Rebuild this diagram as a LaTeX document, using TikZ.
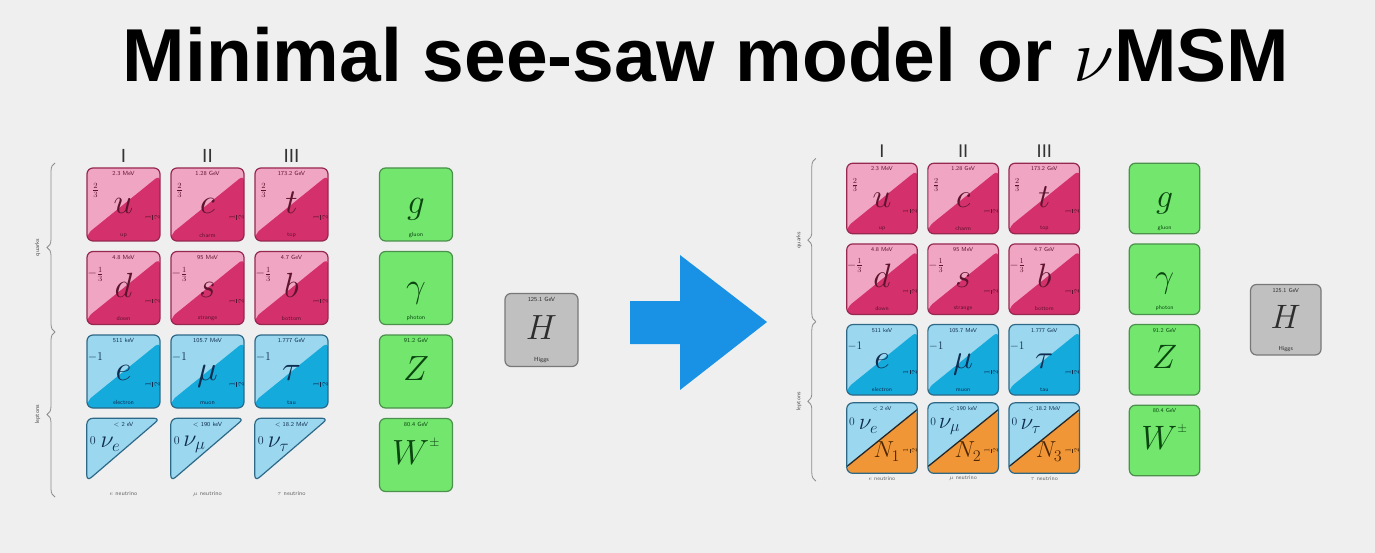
\RequirePackage{fix-cm}
\documentclass[tikz,border=0pt]{standalone}
\usepackage{fontspec}
\newfontfamily\titlefont{Liberation Sans}
\usetikzlibrary{positioning,calc,decorations.pathreplacing}

\definecolor{bgcol}{RGB}{239,239,239}
\definecolor{qlight}{RGB}{240,165,195}
\definecolor{qdark}{RGB}{212,48,108}
\definecolor{qborder}{RGB}{150,40,80}
\definecolor{qink}{RGB}{95,20,45}
\definecolor{llight}{RGB}{155,215,238}
\definecolor{ldark}{RGB}{20,170,220}
\definecolor{lborder}{RGB}{45,105,135}
\definecolor{link}{RGB}{15,45,80}
\definecolor{nfill}{RGB}{240,150,55}
\definecolor{nink}{RGB}{80,40,0}
\definecolor{gfill}{RGB}{115,230,110}
\definecolor{gborder}{RGB}{75,145,75}
\definecolor{gink}{RGB}{10,70,15}
\definecolor{hfill}{RGB}{192,192,192}
\definecolor{hborder}{RGB}{120,120,120}
\definecolor{hink}{RGB}{45,45,45}
\definecolor{arrowblue}{RGB}{25,145,228}

\tikzset{
  fermionbox/.style={draw=#1border, fill=#1light, rounded corners=6pt, line width=1.2pt,
    minimum size=73pt, inner sep=0pt,
    path picture={\fill[#1dark] (path picture bounding box.south west)
      -- ([yshift=7pt]path picture bounding box.south west)
      -- ([yshift=-7pt]path picture bounding box.north east)
      -- (path picture bounding box.south east) -- cycle;}},
  nubox/.style={draw=lborder, fill=llight, rounded corners=6pt, line width=1.2pt,
    minimum size=73pt, inner sep=0pt,
    path picture={\fill[nfill] (path picture bounding box.south west)
      -- ([yshift=7pt]path picture bounding box.south west)
      -- ([yshift=-7pt]path picture bounding box.north east)
      -- (path picture bounding box.south east) -- cycle;
      \draw[black!85, line width=1.3pt] ([yshift=7pt]path picture bounding box.south west)
      -- ([yshift=-7pt]path picture bounding box.north east);}},
  tribox/.style={draw=lborder, fill=llight, rounded corners=6pt, line width=1.2pt},
  bosonbox/.style={draw=gborder, fill=gfill, rounded corners=6pt, line width=1.2pt,
    minimum size=73pt, inner sep=0pt},
  higgsbox/.style={draw=hborder, fill=hfill, rounded corners=6pt, line width=1.2pt,
    minimum size=73pt, inner sep=0pt},
  mass/.style={font=\fontsize{6}{6}\sffamily, inner sep=0pt, text=#1ink},
  sym/.style={font=\fontsize{35}{35}\selectfont, inner sep=0pt, anchor=base, text=#1ink},
  nusym/.style={font=\fontsize{24}{24}\selectfont, inner sep=0pt, text=#1ink},
  chg/.style={font=\fontsize{12}{12}\selectfont, inner sep=0pt, text=#1ink},
  gen/.style={font=\titlefont\fontsize{19}{19}\selectfont, inner sep=0pt, text=black!80},
  grp/.style={font=\fontsize{6}{6}\sffamily, inner sep=0pt, text=black!70, rotate=90},
  nulab/.style={font=\fontsize{6}{6}\sffamily, inner sep=0pt, text=black!60},
  grpbrace/.style={decorate, decoration={brace, amplitude=8pt}, draw=black!45, line width=0.8pt},
  title/.style={font=\titlefont\bfseries\fontsize{75}{80}\selectfont, anchor=base, inner sep=0pt}
}

% one chart: generations, quarks, charged leptons, bosons, Higgs
\newcommand{\smchart}[1]{%
  % Generations
  \foreach \col/\gen in {0/I,1/II,2/III}
    \node[gen] (#1gen\gen) at (84*\col,-49) {\gen};
  % Quarks and charged leptons
  \foreach \col/\row/\id/\sym/\mass/\chg/\pname/\kind in {
      0/0/u/u/{2.3 MeV}/{\frac23}/up/q,
      1/0/c/c/{1.28 GeV}/{\frac23}/charm/q,
      2/0/t/t/{173.2 GeV}/{\frac23}/top/q,
      0/1/d/d/{4.8 MeV}/{-\frac13}/down/q,
      1/1/s/s/{95 MeV}/{-\frac13}/strange/q,
      2/1/b/b/{4.7 GeV}/{-\frac13}/bottom/q,
      0/2/e/e/{511 keV}/{-1}/electron/l,
      1/2/mu/\mu/{105.7 MeV}/{-1}/muon/l,
      2/2/tau/\tau/{1.777 GeV}/{-1}/tau/l}{
    \node[fermionbox=\kind] (#1\id) at (84*\col,83.5*\row) {};
    \node[mass=\kind, below=4pt of #1\id.north] (#1\id-mass) {\mass};
    \node[sym=\kind] (#1\id-sym) at ($(#1\id)+(0,9)$) {$\sym$};
    \node[mass=\kind, above=4pt of #1\id.south] (#1\id-name) {\pname};
    \node[chg=\kind] (#1\id-chg) at ($(#1\id)+(-28,-14)$) {$\chg$};
    \node[chg=\kind, rotate=90] (#1\id-spin) at ($(#1\id)+(29,13)$) {$\frac12$};
  }
  % Gauge bosons
  \foreach \row/\id/\sym/\mass/\pname in {
      0/g/g/{}/gluon, 1/gam/\gamma/{}/photon,
      2/Z/Z/{91.2 GeV}/{},
      3/W/{W^{\raisebox{5pt}{\fontsize{13}{13}\selectfont$\pm$}}}/{80.4 GeV}/{}}{
    \node[bosonbox] (#1\id) at (292.5,83.5*\row) {};
    \node[mass=g, below=4pt of #1\id.north] (#1\id-mass) {\mass};
    \node[sym=g] (#1\id-sym) at ($(#1\id)+(0,9)$) {$\sym$};
    \node[mass=g, above=4pt of #1\id.south] (#1\id-name) {\pname};
  }
  % Higgs
  \node[higgsbox] (#1H) at (418,125.5) {};
  \node[mass=h, below=4pt of #1H.north] (#1H-mass) {125.1 GeV};
  \node[sym=h] (#1H-sym) at ($(#1H)+(0,9)$) {$H$};
  \node[mass=h, above=4pt of #1H.south] (#1H-name) {Higgs};
  % Braces
  \draw[grpbrace] (-68.5,127.5) -- (-68.5,-41.5);
  \draw[grpbrace] (-68.5,292.5) -- (-68.5,127.5);
  \node[grp] (#1quarks) at (-86,43) {quarks};
  \node[grp] (#1leptons) at (-86,210) {leptons};
}

\begin{document}
\begin{tikzpicture}[x=1pt, y=-1pt]
  % Background
  \useasboundingbox (0,0) rectangle (1375,553);
  \fill[bgcol] (0,0) rectangle (1375,553);

  % Title
  \node[title] (title) at (706,82) {Minimal see-saw model or $\nu$MSM};

  % Standard model
  \begin{scope}[shift={(123.5,204.5)}, transform shape]
    \smchart{L}
    \foreach \col/\id/\sym/\mass/\lab in {
        0/nue/\nu_e/{$<$ 2 eV}/{$e$ neutrino},
        1/num/\nu_\mu/{$<$ 190 keV}/{$\mu$ neutrino},
        2/nut/\nu_\tau/{$<$ 18.2 MeV}/{$\tau$ neutrino}}{
      \node[inner sep=0pt, minimum size=73pt] (L\id) at (84*\col,250.5) {};
      \draw[tribox] (L\id.north west) -- (L\id.north east) -- ($(L\id.north west)+(0,63)$) -- cycle;
      \node[mass=l, below=4pt of L\id.north] (L\id-mass) {\mass};
      \node[nusym=l] (L\id-sym) at ($(L\id.north)+(-13,26)$) {$\sym$};
      \node[chg=l] (L\id-chg) at ($(L\id.north west)+(6,22)$) {$0$};
      \node[nulab] (L\id-lab) at (84*\col,289.5) {\lab};
    }
  \end{scope}

  % Arrow
  \fill[arrowblue] (630,301) -- (680,301) -- (680,255) -- (767,322)
    -- (680,390) -- (680,344) -- (630,344) -- cycle;

  % nuMSM
  \begin{scope}[shift={(882,198.5)}, scale=0.966, transform shape]
    \smchart{R}
    \foreach \col/\id/\sym/\num/\mass/\lab in {
        0/nue/\nu_e/1/{$<$ 2 eV}/{$e$ neutrino},
        1/num/\nu_\mu/2/{$<$ 190 keV}/{$\mu$ neutrino},
        2/nut/\nu_\tau/3/{$<$ 18.2 MeV}/{$\tau$ neutrino}}{
      \node[nubox] (R\id) at (84*\col,248) {};
      \node[mass=l, below=4pt of R\id.north] (R\id-mass) {\mass};
      \node[nusym=l] (R\id-sym) at ($(R\id)+(-14,-12)$) {$\sym$};
      \node[nusym=n] (R\id-N) at ($(R\id)+(5,14)$) {$N_{\num}$};
      \node[chg=l] (R\id-chg) at ($(R\id)+(-31,-17)$) {$0$};
      \node[chg=n, rotate=90] (R\id-spin) at ($(R\id)+(29,13)$) {$\frac12$};
      \node[nulab] (R\id-lab) at (84*\col,290) {\lab};
    }
  \end{scope}
\end{tikzpicture}
\end{document}
